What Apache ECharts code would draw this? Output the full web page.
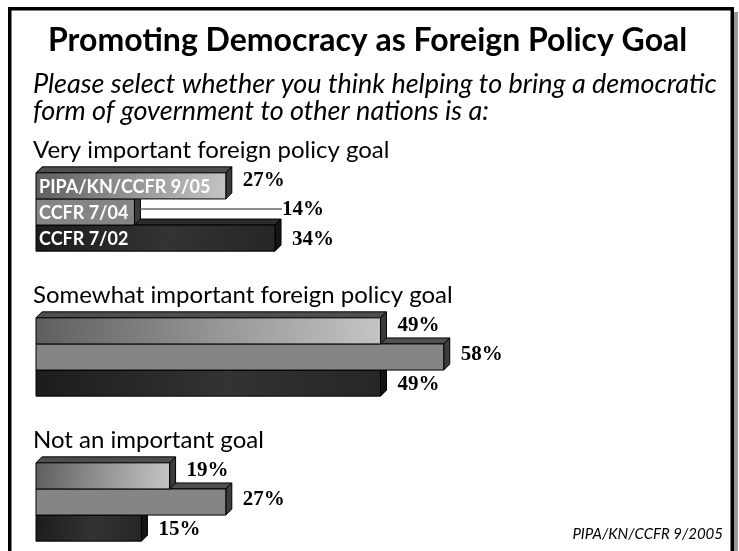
<!DOCTYPE html>
<html>
<head>
<meta charset="utf-8">
<script src="https://cdn.jsdelivr.net/npm/echarts@6/dist/echarts.min.js"></script>
<style>
  html, body { margin: 0; padding: 0; background: #fff; }
  #chart { width: 739px; height: 551px; }
</style>
</head>
<body>
<div id="chart"></div>
<script>
// Survey answers: share of respondents per answer, for each poll
const categories = [
  'Very important foreign policy goal',
  'Somewhat important foreign policy goal',
  'Not an important goal'
];
const seriesNames = ['PIPA/KN/CCFR 9/05', 'CCFR 7/04', 'CCFR 7/02'];
const poll0905 = [27, 49, 19];
const poll0704 = [14, 58, 27];
const poll0702 = [34, 49, 15];
const valuesBySeries = [poll0905, poll0704, poll0702];

const chart = echarts.init(document.getElementById('chart'), null, { renderer: 'canvas' });

const DEPTH = 6;          // 3D extrusion of each bar (px)
const BAR_RATIO = 0.18;   // bar thickness as a share of the category spacing
const LABEL_FONT = 'bold 21px "Liberation Serif", "Times New Roman", serif';
const NAME_FONT = 'bold 18px Lato, "Open Sans", sans-serif';
const HEAD_FONT = '24px Lato, "Open Sans", sans-serif';

// styling per slot: 0 = top bar, 1 = middle bar, 2 = bottom bar
const looks = [
  {
    front: { type: 'linear', x: 0, y: 0, x2: 1, y2: 0.4, colorStops: [
      { offset: 0, color: '#5e5e5e' }, { offset: 0.45, color: '#8e8e8e' }, { offset: 1, color: '#c4c4c4' } ] },
    top: '#4e4e4e', side: '#3a3a3a'
  },
  {
    front: '#858585',
    top: '#505050', side: '#3c3c3c'
  },
  {
    front: { type: 'linear', x: 0, y: 0, x2: 1, y2: 0.3, colorStops: [
      { offset: 0, color: '#1c1c1c' }, { offset: 0.55, color: '#333333' }, { offset: 1, color: '#262626' } ] },
    top: '#2c2c2c', side: '#141414'
  }
];

function makeRender(slot) {
  return function (params, api) {
    const cat = api.value(0);
    const val = api.value(1);
    const step = api.size([0, 1])[1];
    const h = step * BAR_RATIO;
    const base = api.coord([0, cat]);
    const end = api.coord([val, cat]);
    const x0 = base[0];
    const x1 = end[0];
    const yc = base[1] + (slot - 1) * h;
    const top = yc - h / 2;
    const bot = yc + h / 2;
    const d = DEPTH;
    const look = looks[slot];
    const children = [];

    // top face
    children.push({
      type: 'polygon',
      shape: { points: [[x0, top], [x0 + d, top - d], [x1 + d, top - d], [x1, top]] },
      style: { fill: look.top, stroke: '#000', lineWidth: 1 }
    });
    // side face
    children.push({
      type: 'polygon',
      shape: { points: [[x1, top], [x1 + d, top - d], [x1 + d, bot - d], [x1, bot]] },
      style: { fill: look.side, stroke: '#000', lineWidth: 1 }
    });
    // front face
    children.push({
      type: 'rect',
      shape: { x: x0, y: top, width: x1 - x0, height: h },
      style: { fill: look.front, stroke: '#000', lineWidth: 1 }
    });

    // series name written inside the bars of the first group
    if (params.dataIndex === 0) {
      children.push({
        type: 'text',
        style: {
          text: seriesNames[slot], x: x0 + 3, y: yc + 1,
          font: NAME_FONT, fill: '#fff', verticalAlign: 'middle', align: 'left'
        }
      });
    }

    // value label; when the bar below is longer, push the label past it with a leader line
    let labelX = x1 + d + 11;
    const labelY = yc + [-5, -2, 1][slot];
    if (slot === 1) {
      const below = valuesBySeries[2][params.dataIndex];
      if (below > val) {
        const bx = api.coord([below, cat])[0];
        labelX = bx + 7;
        children.push({
          type: 'line',
          shape: { x1: x1 + d, y1: yc - 3, x2: labelX, y2: yc - 3 },
          style: { stroke: '#6a6a6a', lineWidth: 1.5 }
        });
      }
    }
    children.push({
      type: 'text',
      style: {
        text: val + '%', x: labelX, y: labelY,
        font: LABEL_FONT, fill: '#000', verticalAlign: 'middle', align: 'left'
      }
    });

    // category heading above each group
    if (slot === 0) {
      children.push({
        type: 'text',
        style: {
          text: categories[params.dataIndex], x: x0 - 3, y: base[1] - 62,
          font: HEAD_FONT, fill: '#000', verticalAlign: 'middle', align: 'left'
        }
      });
    }
    return { type: 'group', children: children };
  };
}

function seriesFor(slot) {
  return {
    type: 'custom',
    name: seriesNames[slot],
    renderItem: makeRender(slot),
    encode: { y: 0, x: 1 },
    data: categories.map((c, i) => [i, valuesBySeries[slot][i]]),
    clip: false,
    silent: true
  };
}

chart.setOption({
  animation: false,
  backgroundColor: '#fff',
  grid: { left: 36, width: 703, top: 212, height: 290 },
  xAxis: {
    type: 'value', min: 0, max: 100,
    show: false
  },
  yAxis: {
    type: 'category', data: categories, inverse: true, boundaryGap: false,
    show: false
  },
  graphic: [
    // frame
    { type: 'rect', shape: { x: 734, y: 12, width: 4, height: 560 }, style: { fill: '#9a9a9a' }, z: 0 },
    { type: 'rect', shape: { x: 9.75, y: 8.75, width: 722.5, height: 600 }, style: { fill: 'none', stroke: '#000', lineWidth: 3.5 }, z: 1 },
    {
      type: 'text', left: 48, top: 25,
      style: { text: 'Promoting Democracy as Foreign Policy Goal', font: 'bold 32px Lato, "Open Sans", sans-serif', fill: '#000' }
    },
    {
      type: 'text', left: 33, top: 71,
      style: {
        text: 'Please select whether you think helping to bring a democratic\nform of government to other nations is a:',
        font: 'italic 27px Lato, "Open Sans", sans-serif', lineHeight: 27, fill: '#000'
      }
    },
    {
      type: 'text', right: 16, top: 527,
      style: { text: 'PIPA/KN/CCFR 9/2005', font: 'italic 15px Lato, "Open Sans", sans-serif', fill: '#000' }
    }
  ],
  // drawn bottom row first so upper bars cover the top faces behind them
  series: [seriesFor(2), seriesFor(1), seriesFor(0)]
});
</script>
</body>
</html>
